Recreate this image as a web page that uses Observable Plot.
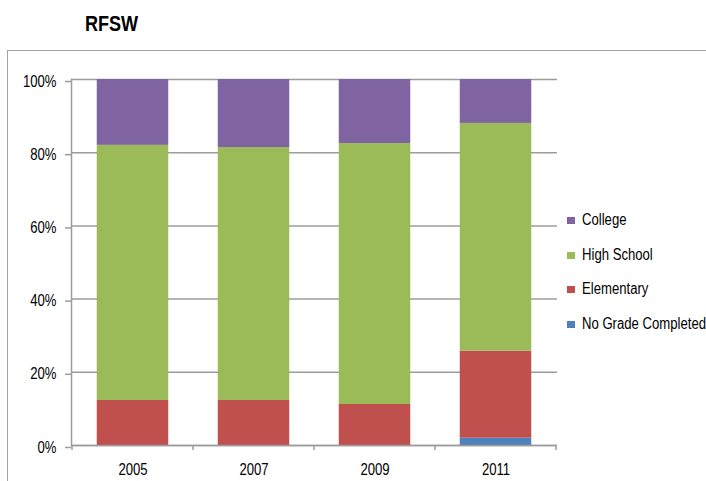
<!DOCTYPE html>
<html>
<head>
<meta charset="utf-8">
<script src="https://cdn.jsdelivr.net/npm/d3@7"></script>
<script src="https://cdn.jsdelivr.net/npm/@observablehq/plot@0.6"></script>
<style>
  html, body { margin: 0; padding: 0; background: #fff; overflow: hidden; }
  #wrap { position: relative; width: 706px; height: 481px; overflow: hidden; background: #fff;
          font-family: 'Liberation Sans', Arial, sans-serif; }
  #border { position: absolute; left: 7px; top: 50px; width: 900px; height: 600px;
            border: 1.5px solid #a3a3a3; box-sizing: border-box; }
  #title { position: absolute; left: 85px; top: 13px; font-size: 22px; line-height: 22px; font-weight: bold; color: #000;
           transform: scaleX(0.82); transform-origin: 0 0; }
  #chart { position: absolute; left: 0; top: 0; }
  .leg { position: absolute; left: 567px; font-size: 16px; line-height: 16px; color: #000; white-space: nowrap; }
  .leg span.sw { position: absolute; left: 0; top: 4px; width: 8px; height: 7px; }
  .leg span.lb { position: absolute; left: 15px; top: 0; transform: scaleX(0.82); transform-origin: 0 0; }
</style>
</head>
<body>
<div id="wrap">
  <div id="border"></div>
  <div id="title">RFSW</div>
  <div id="chart"></div>
  <div id="legend"></div>
</div>
<script>
// ---- data ----
const years = ["2005", "2007", "2009", "2011"];
const seriesNames = ["No Grade Completed", "Elementary", "High School", "College"];
const noGrade    = [0.0, 0.0, 0.0, 2.0];
const elementary = [12.3, 12.3, 11.2, 23.8];
const highSchool = [69.7, 69.1, 71.3, 62.2];
const college    = [18.0, 18.6, 17.5, 12.0];
const colors = ["#4F81BD", "#C0504D", "#9BBB59", "#8064A2"];
const yTicks = [0, 20, 40, 60, 80, 100];
const legendOrder = ["College", "High School", "Elementary", "No Grade Completed"];

const seriesValues = [noGrade, elementary, highSchool, college];
const data = years.flatMap((yr, i) =>
  seriesNames.map((s, k) => ({year: yr, series: s, value: seriesValues[k][i]}))
);

const gridColor = "#9c9c9c";

// boundary ticks on the x axis (between categories)
function boundaryTicks(index, scales, values, dimensions) {
  const sx = scales.x, sy = scales.y;
  const bw = typeof sx.bandwidth === "function" ? sx.bandwidth() : sx.bandwidth;
  const xs = years.map(d => sx(d));
  xs.push(sx(years[years.length - 1]) + bw);
  const y0 = sy(0);
  const g = d3.create("svg:g");
  g.selectAll("line").data(xs).join("line")
    .attr("x1", d => d).attr("x2", d => d)
    .attr("y1", y0).attr("y2", y0 + 5)
    .attr("stroke", gridColor).attr("stroke-width", 1.5);
  return g.node();
}

const chart = Plot.plot({
  width: 706,
  height: 481,
  marginLeft: 71,
  marginRight: 149,
  marginTop: 79,
  marginBottom: 36,
  style: {
    fontFamily: "'Liberation Sans', Arial, sans-serif",
    fontSize: "16px",
    background: "transparent",
    color: "#000"
  },
  x: {domain: years, padding: 0, label: null},
  y: {domain: [0, 100], label: null},
  color: {domain: seriesNames, range: colors},
  marks: [
    Plot.gridY(yTicks, {stroke: gridColor, strokeOpacity: 1, strokeWidth: 1.5}),
    Plot.barY(data, Plot.stackY({order: seriesNames}, {
      x: "year", y: "value", fill: "series", insetLeft: 24.75, insetRight: 24.75
    })),
    Plot.ruleY([0], {stroke: gridColor, strokeWidth: 1.5}),
    Plot.frame({anchor: "left", stroke: gridColor, strokeWidth: 1.5}),
    Plot.axisY(yTicks, {
      tickSize: 6, tickPadding: 9, tickFormat: d => d + "%",
      stroke: gridColor, strokeWidth: 1.5, fill: "#000", dy: 2, label: null
    }),
    Plot.axisX({tickSize: 0, tickPadding: 18, fill: "#000", label: null}),
    boundaryTicks
  ]
});

// compress text horizontally to mimic the narrow face of the reference
chart.querySelectorAll("text").forEach(t => {
  let tr = t.getAttribute("transform");
  if (!tr) {
    const x = t.getAttribute("x") || 0, y = t.getAttribute("y") || 0;
    t.removeAttribute("x"); t.removeAttribute("y");
    tr = `translate(${x},${y})`;
  }
  t.setAttribute("transform", tr + " scale(0.82,1)");
});
document.getElementById("chart").appendChild(chart);

// legend (HTML)
const legend = document.getElementById("legend");
legendOrder.forEach((name, i) => {
  const item = document.createElement("div");
  item.className = "leg";
  item.style.top = (212 + i * 34.5) + "px";
  const sw = document.createElement("span");
  sw.className = "sw";
  sw.style.top = "5px";
  sw.style.background = colors[seriesNames.indexOf(name)];
  const lb = document.createElement("span");
  lb.className = "lb";
  lb.textContent = name;
  item.appendChild(sw);
  item.appendChild(lb);
  legend.appendChild(item);
});
</script>
</body>
</html>
